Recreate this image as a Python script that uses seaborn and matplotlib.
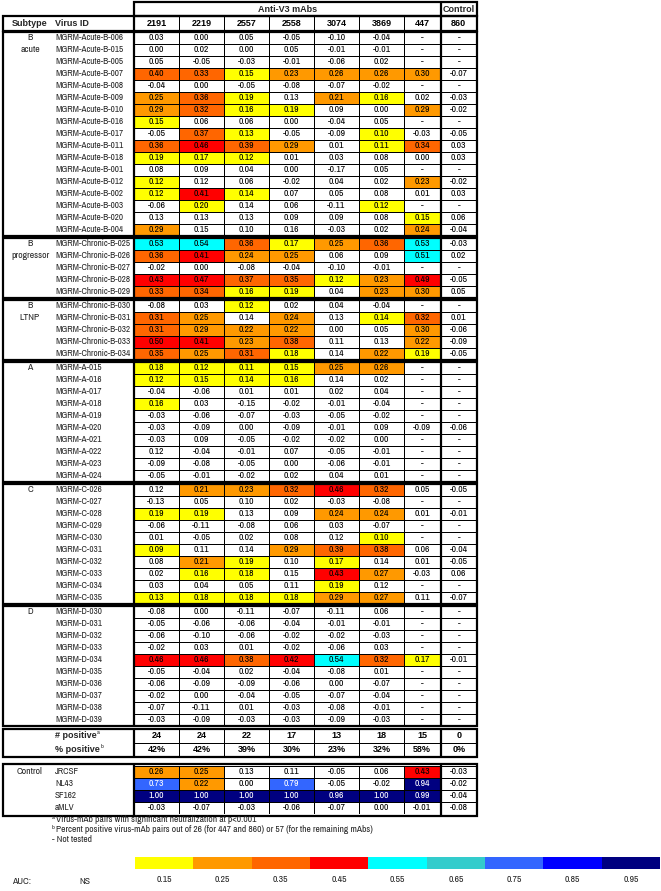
import numpy as np
import matplotlib as mpl
mpl.use("Agg")
import matplotlib.pyplot as plt
from matplotlib import font_manager
from matplotlib.colors import ListedColormap
from matplotlib.patches import Rectangle
import seaborn as sns

na = np.nan

# ---- data -------------------------------------------------------------
mabs = ["2191", "2219", "2557", "2558", "3074", "3869", "447", "860"]

acute_ids = ["MGRM-Acute-B-" + s for s in
             ["006", "015", "005", "007", "008", "009", "010", "016", "017",
              "011", "018", "001", "012", "002", "003", "020", "004"]]
acute_vals = [
    [0.03, 0.00, 0.05, -0.05, -0.10, -0.04, na, na],
    [0.00, 0.02, 0.00, 0.05, -0.01, -0.01, na, na],
    [0.05, -0.05, -0.03, -0.01, -0.06, 0.02, na, na],
    [0.40, 0.33, 0.15, 0.23, 0.26, 0.26, 0.30, -0.07],
    [-0.04, 0.00, -0.05, -0.08, -0.07, -0.02, na, na],
    [0.25, 0.36, 0.19, 0.13, 0.21, 0.16, 0.02, -0.03],
    [0.29, 0.32, 0.16, 0.19, 0.09, 0.00, 0.29, -0.02],
    [0.15, 0.06, 0.06, 0.00, -0.04, 0.05, na, na],
    [-0.05, 0.37, 0.13, -0.05, -0.09, 0.10, -0.03, -0.05],
    [0.36, 0.46, 0.39, 0.29, 0.01, 0.11, 0.34, 0.03],
    [0.19, 0.17, 0.12, 0.01, 0.03, 0.08, 0.00, 0.03],
    [0.08, 0.09, 0.04, 0.00, -0.17, 0.05, na, na],
    [0.12, 0.12, 0.06, -0.02, 0.04, 0.02, 0.23, -0.02],
    [0.12, 0.41, 0.14, 0.07, 0.05, 0.08, 0.01, 0.03],
    [-0.06, 0.20, 0.14, 0.06, -0.11, 0.12, na, na],
    [0.13, 0.13, 0.13, 0.09, 0.09, 0.08, 0.15, 0.06],
    [0.29, 0.15, 0.10, 0.16, -0.03, 0.02, 0.24, -0.04],
]
acute_sig = ["00000000", "00000000", "00000000", "11111110", "00000000",
             "11101100", "11110010", "10000000", "01100100", "11110110",
             "11100000", "00000000", "10000010", "11100000", "01000100",
             "00000010", "10000010"]

prog_ids = ["MGRM-Chronic-B-" + s for s in ["025", "026", "027", "028", "029"]]
prog_vals = [
    [0.53, 0.54, 0.36, 0.17, 0.25, 0.36, 0.53, -0.03],
    [0.36, 0.41, 0.24, 0.25, 0.06, 0.09, 0.51, 0.02],
    [-0.02, 0.00, -0.08, -0.04, -0.10, -0.01, na, na],
    [0.43, 0.47, 0.37, 0.35, 0.12, 0.23, 0.49, -0.05],
    [0.33, 0.34, 0.16, 0.19, 0.04, 0.23, 0.30, 0.05],
]
prog_sig = ["11111110", "11110010", "00000000", "11111110", "11110110"]

ltnp_ids = ["MGRM-Chronic-B-" + s for s in ["030", "031", "032", "033", "034"]]
ltnp_vals = [
    [-0.08, 0.03, 0.12, 0.02, 0.04, -0.04, na, na],
    [0.31, 0.25, 0.14, 0.24, 0.13, 0.14, 0.32, 0.01],
    [0.31, 0.29, 0.22, 0.22, 0.00, 0.05, 0.30, -0.06],
    [0.50, 0.41, 0.23, 0.38, 0.11, 0.13, 0.22, -0.09],
    [0.35, 0.25, 0.31, 0.18, 0.14, 0.22, 0.19, -0.05],
]
ltnp_sig = ["00100000", "11010110", "11110010", "11110010", "11110110"]

a_ids = ["MGRM-A-0%d" % k for k in range(15, 25)]
a_vals = [
    [0.18, 0.12, 0.11, 0.15, 0.25, 0.26, na, na],
    [0.12, 0.15, 0.14, 0.16, 0.14, 0.02, na, na],
    [-0.04, -0.06, 0.01, 0.01, 0.02, 0.04, na, na],
    [0.16, 0.03, -0.15, -0.02, -0.01, -0.04, na, na],
    [-0.03, -0.06, -0.07, -0.03, -0.05, -0.02, na, na],
    [-0.03, -0.09, 0.00, -0.09, -0.01, 0.09, -0.09, -0.06],
    [-0.03, 0.09, -0.05, -0.02, -0.02, 0.00, na, na],
    [0.12, -0.04, -0.01, 0.07, -0.05, -0.01, na, na],
    [-0.09, -0.08, -0.05, 0.00, -0.06, -0.01, na, na],
    [-0.05, -0.01, -0.02, 0.02, 0.04, 0.01, na, na],
]
a_sig = ["11111100", "11110000", "00000000", "10000000", "00000000",
         "00000000", "00000000", "00000000", "00000000", "00000000"]

c_ids = ["MGRM-C-0%d" % k for k in range(26, 36)]
c_vals = [
    [0.12, 0.21, 0.23, 0.32, 0.46, 0.32, 0.05, -0.05],
    [-0.13, 0.05, 0.10, 0.02, -0.03, -0.08, na, na],
    [0.19, 0.19, 0.13, 0.09, 0.24, 0.24, 0.01, -0.01],
    [-0.06, -0.11, -0.08, 0.06, 0.03, -0.07, na, na],
    [0.01, -0.05, 0.02, 0.08, 0.12, 0.10, na, na],
    [0.09, 0.11, 0.14, 0.29, 0.39, 0.38, 0.06, -0.04],
    [0.08, 0.21, 0.19, 0.10, 0.17, 0.14, 0.01, -0.05],
    [0.02, 0.16, 0.18, 0.15, 0.43, 0.27, -0.03, 0.06],
    [0.03, 0.04, 0.05, 0.11, 0.19, 0.12, na, na],
    [0.13, 0.18, 0.18, 0.18, 0.29, 0.27, 0.11, -0.07],
]
c_sig = ["01111100", "00000000", "11001100", "00000000", "00000100",
         "10011100", "01101000", "01101100", "00001000", "11111100"]

d_ids = ["MGRM-D-0%d" % k for k in range(30, 40)]
d_vals = [
    [-0.08, 0.00, -0.11, -0.07, -0.11, 0.06, na, na],
    [-0.05, -0.06, -0.06, -0.04, -0.01, -0.01, na, na],
    [-0.06, -0.10, -0.06, -0.02, -0.02, -0.03, na, na],
    [-0.02, 0.03, 0.01, -0.02, -0.06, 0.03, na, na],
    [0.46, 0.46, 0.38, 0.42, 0.54, 0.32, 0.17, -0.01],
    [-0.05, -0.04, 0.02, -0.04, -0.08, 0.01, na, na],
    [-0.06, -0.09, -0.09, -0.06, 0.00, -0.07, na, na],
    [-0.02, 0.00, -0.04, -0.05, -0.07, -0.04, na, na],
    [-0.07, -0.11, 0.01, -0.03, -0.08, -0.01, na, na],
    [-0.03, -0.09, -0.03, -0.03, -0.09, -0.03, na, na],
]
d_sig = ["00000000", "00000000", "00000000", "00000000", "11111110",
         "00000000", "00000000", "00000000", "00000000", "00000000"]

ctrl_ids = ["JRCSF", "NL43", "SF162", "aMLV"]
ctrl_vals = [
    [0.26, 0.25, 0.13, 0.11, -0.05, 0.06, 0.43, -0.03],
    [0.73, 0.22, 0.00, 0.79, -0.05, -0.02, 0.94, -0.02],
    [1.00, 1.00, 1.00, 1.00, 0.96, 1.00, 0.99, -0.04],
    [-0.03, -0.07, -0.03, -0.06, -0.07, 0.00, -0.01, -0.08],
]
ctrl_sig = ["11000010", "11010010", "11111110", "00000000"]

auc_edges = [0.2, 0.3, 0.4, 0.5, 0.6, 0.7, 0.8, 0.9]
auc_labels = ["0.15", "0.25", "0.35", "0.45", "0.55", "0.65", "0.75", "0.85", "0.95"]
auc_colors = ["#FFFF00", "#FF9900", "#FF6600", "#FF0000", "#00FFFF",
              "#33CCCC", "#3366FF", "#0000FF", "#000080"]

groups = [("B\nacute", acute_ids, acute_vals, acute_sig),
          ("B\nprogressor", prog_ids, prog_vals, prog_sig),
          ("B\nLTNP", ltnp_ids, ltnp_vals, ltnp_sig),
          ("A", a_ids, a_vals, a_sig),
          ("C", c_ids, c_vals, c_sig),
          ("D", d_ids, d_vals, d_sig)]

# ---- style ------------------------------------------------------------
sns.set_style("white")
names = {f.name for f in font_manager.fontManager.ttflist}
narrow = next((n for n in ["Liberation Sans Narrow", "Archivo Narrow"] if n in names), "Liberation Sans")
bold_font = "Liberation Sans Narrow" if "Liberation Sans Narrow" in names else "Liberation Sans"
plt.rcParams["font.family"] = [narrow, "DejaVu Sans"]
FS = 7
FS_ID = 6.6
FSB = 6.5
TH = 1.6
BOLD = dict(fontweight="bold", family=[bold_font, "DejaVu Sans"], fontsize=FSB)

auc_cmap = ListedColormap(["white"] + auc_colors)


def classes_of(vals, sig):
    v = np.array(vals, dtype=float)
    s = np.array([[ch == "1" for ch in row] for row in sig])
    cls = np.searchsorted(auc_edges, np.nan_to_num(v), side="left") + 1
    return np.where(s, cls, 0)


def labels_of(vals):
    return np.array([["-" if np.isnan(x) else "%.2f" % x for x in row] for row in vals], dtype=object)


W, H = 661, 891
fig = plt.figure(figsize=(W / 100, H / 100), dpi=100)

X_LEFT, X_VAL, X_SPLIT, X_RIGHT = 3, 134, 404, 477
X_CTRL = (X_SPLIT + X_RIGHT) / 2
ROW = 12


def px_axes(x0, y0, x1, y1):
    return fig.add_axes([x0 / W, 1 - y1 / H, (x1 - x0) / W, (y1 - y0) / H])


def block(y0, y1, cls, lab, bold=False):
    for c0, c1, x0, x1 in [(0, 6, X_VAL, X_SPLIT), (6, 8, X_SPLIT, X_RIGHT)]:
        ax = px_axes(x0, y0, x1, y1)
        kw = dict(BOLD) if bold else dict(fontsize=FS)
        kw["color"] = "black"
        sns.heatmap(cls[:, c0:c1], ax=ax, cmap=auc_cmap, vmin=-0.5, vmax=9.5, cbar=False,
                    annot=lab[:, c0:c1], fmt="", linewidths=0.6, linecolor="black",
                    xticklabels=False, yticklabels=False, annot_kws=kw)
        for t, c in zip(ax.texts, cls[:, c0:c1].ravel()):
            if c >= 7:
                t.set_color("white")


boxes = []

# header row with mAb names
block(16, 31, np.zeros((1, 8), dtype=int), np.array([mabs], dtype=object), bold=True)
boxes.append((16, 31))

# virus groups
all_cls, all_vals = [], []
top = 32
row_text = []
for label, ids, vals, sig in groups:
    cls = classes_of(vals, sig)
    bottom = top + ROW * len(ids)
    block(top, bottom, cls, labels_of(vals))
    boxes.append((top, bottom))
    for k, line in enumerate(label.split("\n")):
        row_text.append((30, top + ROW / 2 + ROW * k, line, "center"))
    for i, vid in enumerate(ids):
        row_text.append((55, top + ROW / 2 + ROW * i, vid, "left"))
    all_cls.append(cls)
    all_vals.append(np.array(vals, dtype=float))
    top = bottom + 2

all_cls = np.vstack(all_cls)
all_vals = np.vstack(all_vals)
n_pos = (all_cls > 0).sum(axis=0)
n_tested = (~np.isnan(all_vals)).sum(axis=0)
pct = [int(round(100 * p / n)) for p, n in zip(n_pos, n_tested)]

# summary rows
sy0 = top + 1
block(sy0, sy0 + 28, np.zeros((2, 8), dtype=int),
      np.array([[str(p) for p in n_pos], ["%d%%" % p for p in pct]], dtype=object), bold=True)
boxes.append((sy0, sy0 + 28))

# control viruses
cy0 = sy0 + 37
block(cy0, cy0 + ROW * len(ctrl_ids), classes_of(ctrl_vals, ctrl_sig), labels_of(ctrl_vals))
boxes.append((cy0 - 2, cy0 + ROW * len(ctrl_ids) + 2))

# colour key
kax = px_axes(135, 857, 660, 869)
sns.heatmap(np.arange(1, 10)[None, :], ax=kax, cmap=auc_cmap, vmin=-0.5, vmax=9.5, cbar=False,
            xticklabels=auc_labels, yticklabels=False)
kax.tick_params(axis="x", length=0, pad=4, labelsize=FS, rotation=0)

# ---- frame and text ---------------------------------------------------
ax0 = fig.add_axes([0, 0, 1, 1])
ax0.set_xlim(0, W)
ax0.set_ylim(H, 0)
ax0.axis("off")
ax0.patch.set_alpha(0)

ax0.add_patch(Rectangle((X_VAL, 2), X_RIGHT - X_VAL, 14, fill=False, lw=TH, ec="black"))
ax0.vlines(X_CTRL, 2, 16, lw=TH, color="black")
for y0, y1 in boxes:
    ax0.add_patch(Rectangle((X_LEFT, y0), X_RIGHT - X_LEFT, y1 - y0, fill=False, lw=TH, ec="black"))
    ax0.vlines([X_VAL, X_CTRL], y0, y1, lw=TH, color="black")

ax0.text((X_VAL + X_CTRL) / 2, 9, "Anti-V3 mAbs", ha="center", va="center", **BOLD)
ax0.text((X_CTRL + X_RIGHT) / 2, 9, "Control", ha="center", va="center", **BOLD)
ax0.text(30, 23.5, "Subtype", ha="center", va="center", **BOLD)
ax0.text(55, 23.5, "Virus ID", ha="left", va="center", **BOLD)

for x, y, s, ha in row_text:
    ax0.text(x, y, s, ha=ha, va="center", fontsize=FS_ID if ha == "left" else FS)

renderer = fig.canvas.get_renderer()


def with_mark(x, y, s, mark, mark_size, **kw):
    t = ax0.text(x, y, s, ha="left", va="center", **kw)
    right = t.get_window_extent(renderer).x1
    xr = ax0.transData.inverted().transform((right, 0))[0]
    ax0.text(xr + 0.5, y - 3, mark, ha="left", va="center", fontsize=mark_size,
             fontweight=kw.get("fontweight", "normal"))


with_mark(55, sy0 + 7, "# positive", "a", 4.5, **BOLD)
with_mark(55, sy0 + 21, "% positive", "b", 4.5, **BOLD)

ax0.text(30, cy0 + ROW / 2, "Control", ha="center", va="center", fontsize=FS)
for i, name in enumerate(ctrl_ids):
    ax0.text(55, cy0 + ROW / 2 + ROW * i, name, ha="left", va="center", fontsize=FS_ID)

notes = ["Virus-mAb pairs with significant neutralization at p<0.001",
         "Percent positive virus-mAb pairs out of 26 (for 447 and 860) or 57 (for the remaining mAbs)",
         "- Not tested"]
marks = ["a", "b", ""]
for k, (note, mk) in enumerate(zip(notes, marks)):
    y = 820 + 10 * k
    x = 52
    if mk:
        ax0.text(x, y - 2.5, mk, ha="left", va="center", fontsize=4.5)
        x += 3.5
    ax0.text(x, y, note, ha="left", va="center", fontsize=6.8)

ax0.text(12, 881, "AUC:", ha="left", va="center", fontsize=FS)
ax0.text(79, 881, "NS", ha="left", va="center", fontsize=FS)

fig.savefig("out.png", dpi=100)
